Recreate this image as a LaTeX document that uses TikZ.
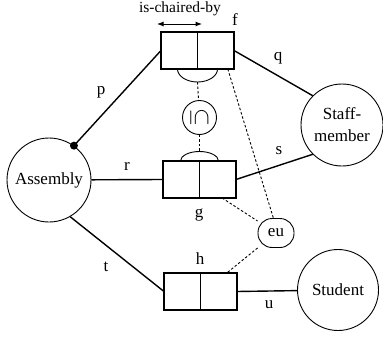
\documentclass[tikz,border=0pt]{standalone}
\usepackage{fontspec}
\setmainfont{Liberation Serif}
\usetikzlibrary{arrows.meta,calc}
\begin{document}
\begin{tikzpicture}[x=1pt,y=-1pt,
  font=\fontsize{17}{20}\selectfont,
  entity/.style={circle,draw,line width=0.9pt,inner sep=0pt,align=center},
  rolebox/.style={draw,line width=1.2pt,minimum width=36.5pt,minimum height=37pt,
                  inner sep=0pt,outer sep=0pt},
  conn/.style={line width=1.4pt},
  cons/.style={line width=0.9pt,dash pattern=on 2.5pt off 2pt},
  lbl/.style={inner sep=0pt},
  tip/.tip={Latex[length=6.5pt,width=5pt]}]
\useasboundingbox (0,0) rectangle (383,340);

% entity types
\node[entity,minimum size=84pt] (asm) at (49,180) {Assembly};
\node[entity,minimum size=82pt,font=\fontsize{17}{22}\selectfont] (staff) at (342,125) {Staff-\\member};
\node[entity,minimum size=81pt] (stu) at (338,290) {Student};

% binary fact types, two roles each
\node[rolebox] (f1) at (179.25,50.5) {};
\node[rolebox] (f2) at (215.75,50.5) {};
\node[rolebox] (g1) at (181.25,179.5) {};
\node[rolebox] (g2) at (217.75,179.5) {};
\node[rolebox] (h1) at (182.25,291.5) {};
\node[rolebox] (h2) at (218.75,291.5) {};

% reading direction
\coordinate (al) at (157,24);
\coordinate (ar) at (202,24);
\draw[line width=1pt,tip-tip] (al) -- (ar);
\node[lbl,font=\fontsize{15.5}{18}\selectfont] (chair) at (180,9) {is-chaired-by};

% subset constraint between f and g
\node[entity,minimum size=34pt] (sub) at (199.5,117.5)
  {\rotatebox{-90}{\scalebox{1.35}{$\subseteq$}}};
\draw[line width=0.9pt] ([xshift=-20pt]f1.south east)
  arc[start angle=180,end angle=360,x radius=20pt,y radius=13pt];
\coordinate (fbot) at ([yshift=-13pt]f1.south east);
\draw[line width=0.9pt] ([xshift=-19pt]g1.north east)
  arc[start angle=180,end angle=0,x radius=19pt,y radius=9.5pt];
\coordinate (gtop) at ([yshift=9.5pt]g1.north east);
\draw[cons] (fbot) -- (sub);
\draw[cons] (sub) -- (gtop);

% exclusive-or constraint
\node[draw,rounded corners=14pt,line width=0.9pt,minimum width=36pt,minimum height=29pt,
      inner sep=0pt] (eu) at (276,233) {eu};
\draw[cons] ($(f2.south west)!0.83!(f2.south east)$) -- (eu.100);
\draw[cons] ($(g2.south west)!0.62!(g2.south east)$) -- (eu);
\draw[cons] (eu) -- ($(h2.north west)!0.72!(h2.north east)$);

% role connectors
\draw[conn] (asm.54) -- (f1.west);
\fill (asm.54) circle[radius=4pt];
\draw[conn] (f2.east) -- (staff.135);
\draw[conn] (asm) -- (g1.west);
\draw[conn] (g2.east) -- (staff.225);
\draw[conn] (asm.-60) -- (h1.west);
\draw[conn] (h2.east) -- (stu);

% labels
\node[lbl] (lp) at (101,92) {p};
\node[lbl] (lq) at (278,58) {q};
\node[lbl] (lr) at (127,166) {r};
\node[lbl] (ls) at (279,151) {s};
\node[lbl] (lt) at (106,267) {t};
\node[lbl] (lu) at (269,305) {u};
\node[lbl] (lf) at (235,20) {f};
\node[lbl] (lg) at (199,215) {g};
\node[lbl] (lh) at (200,259) {h};
\end{tikzpicture}
\end{document}
